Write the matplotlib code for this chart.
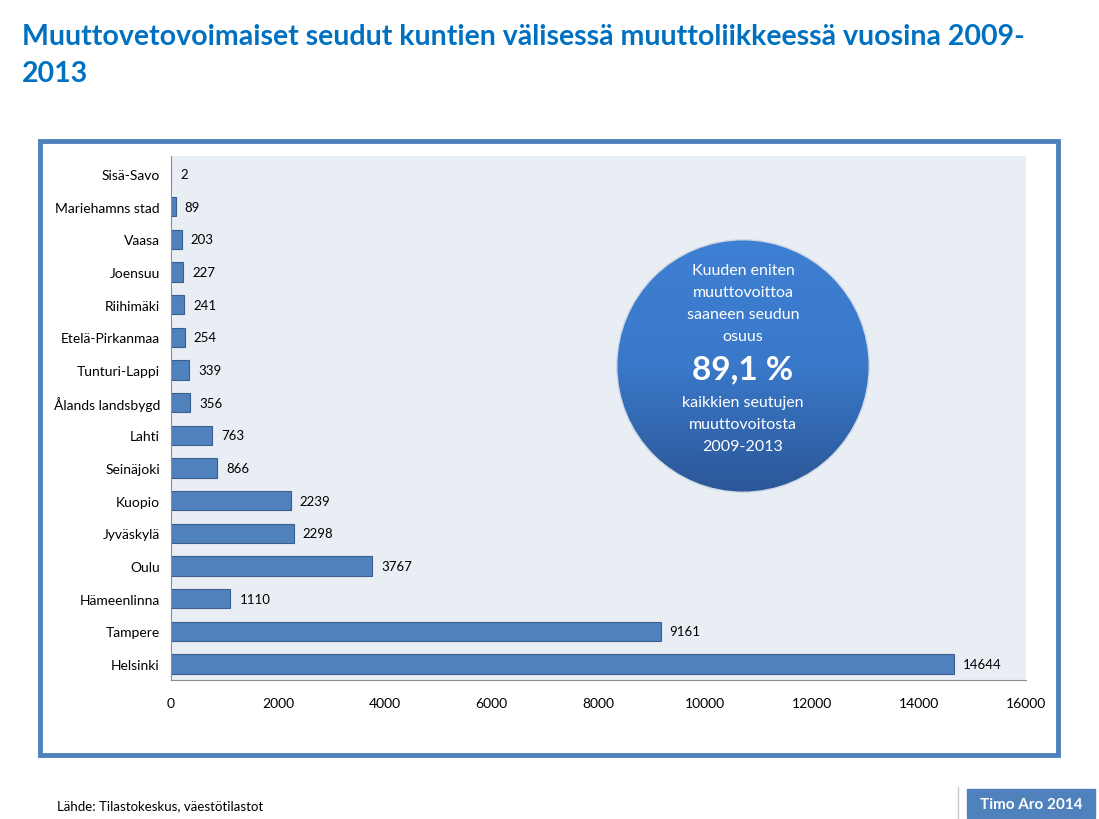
import matplotlib.pyplot as plt
import numpy as np
from matplotlib.patches import Rectangle, Circle
from matplotlib.colors import LinearSegmentedColormap

plt.rcParams['font.family'] = ['Lato', 'DejaVu Sans']

regions = ['Sisä-Savo', 'Mariehamns stad', 'Vaasa', 'Joensuu', 'Riihimäki',
           'Etelä-Pirkanmaa', 'Tunturi-Lappi', 'Ålands landsbygd', 'Lahti',
           'Seinäjoki', 'Kuopio', 'Jyväskylä', 'Oulu', 'Hämeenlinna',
           'Tampere', 'Helsinki']
gain = [2, 89, 203, 227, 241, 254, 339, 356, 763, 866, 2239, 2298, 3767,
        1110, 9161, 14644]
xticks = [0, 2000, 4000, 6000, 8000, 10000, 12000, 14000, 16000]

W, H = 1099, 820
fig = plt.figure(figsize=(W / 100, H / 100), dpi=100)

def fbox(x0, y0, x1, y1):
    # pixel box (top-left origin) -> figure fraction rect
    return [x0 / W, 1 - y1 / H, (x1 - x0) / W, (y1 - y0) / H]

blue = '#4f81bd'

# outer frame
fig.patches.append(Rectangle((40 / W, 1 - 756 / H), 1018 / W, 614 / H,
                             transform=fig.transFigure, fill=False,
                             edgecolor=blue, linewidth=3.5))

ax = fig.add_axes(fbox(171, 157, 1026, 681))
ax.set_facecolor('#e9edf4')
y = np.arange(len(regions))
ax.barh(y, gain, height=0.6, color=blue, edgecolor='#3a5f8f', linewidth=0.8)
ax.set_ylim(15.49, -0.55)
ax.set_xlim(0, 16000)
ax.set_yticks(y)
ax.set_yticklabels(regions, fontsize=10)
ax.set_xticks(xticks)
ax.set_xticklabels([str(t) for t in xticks], fontsize=10)
ax.tick_params(length=0, pad=8)
ax.tick_params(axis='x', pad=12)
for s in ['top', 'right']:
    ax.spines[s].set_visible(False)
for s in ['left', 'bottom']:
    ax.spines[s].set_color('#8c8c8c')
for yi, v in zip(y, gain):
    ax.text(v + 170, yi, str(v), va='center', ha='left', fontsize=9.5)

# gradient circle
cax = fig.add_axes(fbox(616, 240, 870, 494))
cax.set_xlim(0, 1)
cax.set_ylim(0, 1)
cax.axis('off')
grad = np.linspace(0, 1, 256).reshape(-1, 1)
cmap = LinearSegmentedColormap.from_list('c', ['#2b5797', '#3a78c9', '#3e80d4'])
im = cax.imshow(grad, extent=[0, 1, 0, 1], origin='lower', cmap=cmap, aspect='auto')
circ = Circle((0.5, 0.5), 0.497, transform=cax.transData)
im.set_clip_path(circ)
cax.add_patch(Circle((0.5, 0.5), 0.497, fill=False, edgecolor='#d0d8e4', linewidth=1))

cx = 743 / W
for txt, py in [('Kuuden eniten', 271), ('muuttovoittoa', 293), ('saaneen seudun', 315),
                ('osuus', 337), ('kaikkien seutujen', 403), ('muuttovoitosta', 425),
                ('2009-2013', 447)]:
    fig.text(cx, 1 - py / H, txt, ha='center', va='center', color='white', fontsize=11.5)
fig.text(cx, 1 - 370 / H, '89,1 %', ha='center', va='center', color='white',
         fontsize=24, fontweight='bold')

fig.text(22 / W, 1 - 37 / H, 'Muuttovetovoimaiset seudut kuntien välisessä muuttoliikkeessä vuosina 2009-',
         ha='left', va='center', color='#0070c0', fontsize=20.5, fontweight='bold')
fig.text(22 / W, 1 - 74 / H, '2013', ha='left', va='center', color='#0070c0',
         fontsize=20.5, fontweight='bold')

fig.text(57 / W, 1 - 806 / H, 'Lähde: Tilastokeskus, väestötilastot', ha='left', va='center',
         fontsize=9.5)
fig.patches.append(Rectangle((967 / W, 1 - 819 / H), 128 / W, 29 / H,
                             transform=fig.transFigure, color=blue))
fig.lines.append(plt.Line2D([958 / W, 958 / W], [0, 1 - 788 / H], transform=fig.transFigure,
                            color='#c8c8c8', linewidth=1))
fig.text(1031 / W, 1 - 805 / H, 'Timo Aro 2014', ha='center', va='center', color='white',
         fontsize=11, fontweight='bold')

fig.savefig('out.png', dpi=100)
